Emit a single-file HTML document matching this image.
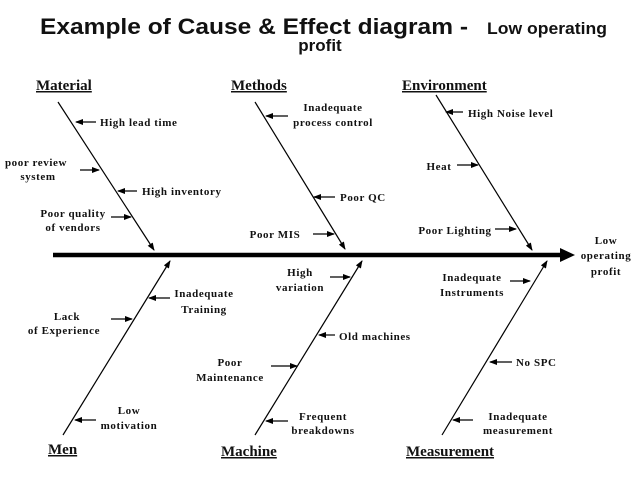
<!DOCTYPE html>
<html><head><meta charset="utf-8"><style>
html,body{margin:0;padding:0;background:#fff;}
svg{display:block;}
.t{font-family:"Liberation Sans",Arial,sans-serif;font-weight:bold;fill:#111;}
.s{font-family:"Liberation Serif","Times New Roman",serif;font-weight:bold;font-size:11px;fill:#111;letter-spacing:0.6px;}
.h{font-family:"Liberation Serif","Times New Roman",serif;font-weight:bold;font-size:15px;fill:#111;text-decoration:underline;}
line{stroke:#000;}
</style></head><body>
<svg width="638" height="479" viewBox="0 0 638 479" xmlns="http://www.w3.org/2000/svg">
<defs>
<marker id="a" markerWidth="8" markerHeight="6" refX="7" refY="3" orient="auto" markerUnits="userSpaceOnUse">
<path d="M0,0 L8,3 L0,6 z" fill="#000"/></marker>
</defs>
<rect width="638" height="479" fill="#fff"/>
<text class="t" x="40" y="34" font-size="22" textLength="428" lengthAdjust="spacingAndGlyphs">Example of Cause &amp; Effect  diagram -</text>
<text class="t" x="487" y="34" font-size="17" textLength="120" lengthAdjust="spacingAndGlyphs">Low operating</text>
<text class="t" x="320" y="51" font-size="17" text-anchor="middle">profit</text>

<!-- spine -->
<line x1="53" y1="255" x2="562" y2="255" stroke-width="4.5"/>
<path d="M560,248 L575,255 L560,262 z" fill="#000"/>

<!-- bones -->
<g stroke-width="1.2">
<line x1="58" y1="102" x2="154" y2="250" marker-end="url(#a)"/>
<line x1="255" y1="102" x2="345" y2="249" marker-end="url(#a)"/>
<line x1="436" y1="95" x2="532" y2="250" marker-end="url(#a)"/>
<line x1="63" y1="435" x2="170" y2="261" marker-end="url(#a)"/>
<line x1="255" y1="435" x2="362" y2="261" marker-end="url(#a)"/>
<line x1="442" y1="435" x2="547" y2="261" marker-end="url(#a)"/>
</g>

<!-- small arrows -->
<g stroke-width="1.2">
<line x1="96" y1="122" x2="76" y2="122" marker-end="url(#a)"/>
<line x1="80" y1="170" x2="99" y2="170" marker-end="url(#a)"/>
<line x1="137" y1="191" x2="118" y2="191" marker-end="url(#a)"/>
<line x1="111" y1="217" x2="131" y2="217" marker-end="url(#a)"/>
<line x1="288" y1="116" x2="266" y2="116" marker-end="url(#a)"/>
<line x1="335" y1="197" x2="314" y2="197" marker-end="url(#a)"/>
<line x1="313" y1="234" x2="334" y2="234" marker-end="url(#a)"/>
<line x1="463" y1="112" x2="446" y2="112" marker-end="url(#a)"/>
<line x1="457" y1="165" x2="478" y2="165" marker-end="url(#a)"/>
<line x1="495" y1="229" x2="516" y2="229" marker-end="url(#a)"/>
<line x1="170" y1="298" x2="149" y2="298" marker-end="url(#a)"/>
<line x1="111" y1="319" x2="132" y2="319" marker-end="url(#a)"/>
<line x1="96" y1="420" x2="75" y2="420" marker-end="url(#a)"/>
<line x1="330" y1="277" x2="350" y2="277" marker-end="url(#a)"/>
<line x1="335" y1="335" x2="319" y2="335" marker-end="url(#a)"/>
<line x1="271" y1="366" x2="297" y2="366" marker-end="url(#a)"/>
<line x1="288" y1="421" x2="266" y2="421" marker-end="url(#a)"/>
<line x1="510" y1="281" x2="530" y2="281" marker-end="url(#a)"/>
<line x1="512" y1="362" x2="490" y2="362" marker-end="url(#a)"/>
<line x1="473" y1="420" x2="453" y2="420" marker-end="url(#a)"/>
</g>

<!-- headings -->
<text class="h" x="36" y="90">Material</text>
<text class="h" x="231" y="90">Methods</text>
<text class="h" x="402" y="90">Environment</text>
<text class="h" x="48" y="454">Men</text>
<text class="h" x="221" y="456">Machine</text>
<text class="h" x="406" y="456">Measurement</text>

<!-- labels -->
<g class="s">
<text x="100" y="126">High lead time</text>
<text x="36" y="166" text-anchor="middle">poor review</text>
<text x="38" y="180" text-anchor="middle">system</text>
<text x="142" y="195">High inventory</text>
<text x="73" y="217" text-anchor="middle">Poor quality</text>
<text x="73" y="231" text-anchor="middle">of vendors</text>
<text x="333" y="111" text-anchor="middle">Inadequate</text>
<text x="333" y="126" text-anchor="middle">process control</text>
<text x="340" y="201">Poor QC</text>
<text x="275" y="238" text-anchor="middle">Poor MIS</text>
<text x="468" y="117">High Noise level</text>
<text x="439" y="170" text-anchor="middle">Heat</text>
<text x="455" y="234" text-anchor="middle">Poor Lighting</text>
<text x="606" y="244" text-anchor="middle">Low</text>
<text x="606" y="259" text-anchor="middle">operating</text>
<text x="606" y="275" text-anchor="middle">profit</text>
<text x="204" y="297" text-anchor="middle">Inadequate</text>
<text x="204" y="313" text-anchor="middle">Training</text>
<text x="67" y="320" text-anchor="middle">Lack</text>
<text x="64" y="334" text-anchor="middle">of Experience</text>
<text x="129" y="414" text-anchor="middle">Low</text>
<text x="129" y="429" text-anchor="middle">motivation</text>
<text x="300" y="276" text-anchor="middle">High</text>
<text x="300" y="291" text-anchor="middle">variation</text>
<text x="339" y="340">Old machines</text>
<text x="230" y="366" text-anchor="middle">Poor</text>
<text x="230" y="381" text-anchor="middle">Maintenance</text>
<text x="323" y="420" text-anchor="middle">Frequent</text>
<text x="323" y="434" text-anchor="middle">breakdowns</text>
<text x="472" y="281" text-anchor="middle">Inadequate</text>
<text x="472" y="296" text-anchor="middle">Instruments</text>
<text x="516" y="366">No SPC</text>
<text x="518" y="420" text-anchor="middle">Inadequate</text>
<text x="518" y="434" text-anchor="middle">measurement</text>
</g>
</svg>
</body></html>
